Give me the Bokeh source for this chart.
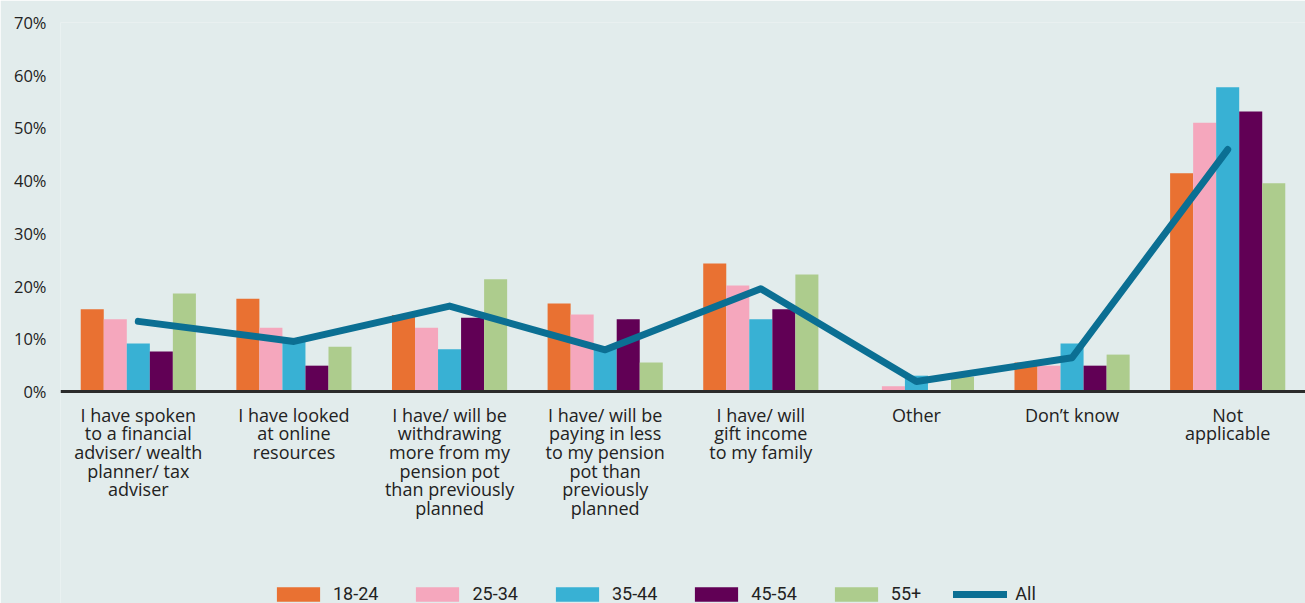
from bokeh.plotting import figure
from bokeh.models import FactorRange, Range1d, FixedTicker, Legend, LegendItem, ColumnDataSource
from bokeh.transform import dodge
from bokeh.embed import file_html
from bokeh.resources import INLINE

categories = [
    "I have spoken to a financial adviser/ wealth planner/ tax adviser",
    "I have looked at online resources",
    "I have/ will be withdrawing more from my pension pot than previously planned",
    "I have/ will be paying in less to my pension pot than previously planned",
    "I have/ will gift income to my family",
    "Other",
    "Don\u2019t know",
    "Not applicable",
]
tick_labels = [
    "I have spoken\nto a financial\nadviser/ wealth\nplanner/ tax\nadviser",
    "I have looked\nat online\nresources",
    "I have/ will be\nwithdrawing\nmore from my\npension pot\nthan previously\nplanned",
    "I have/ will be\npaying in less\nto my pension\npot than\npreviously\nplanned",
    "I have/ will\ngift income\nto my family",
    "Other",
    "Don\u2019t know",
    "Not\napplicable",
]
age_18_24 = [15.6, 17.6, 14.5, 16.7, 24.3, 0.0, 5.5, 41.4]
age_25_34 = [13.7, 12.1, 12.1, 14.6, 20.1, 1.0, 4.9, 51.0]
age_35_44 = [9.1, 10.1, 8.0, 8.3, 13.7, 3.0, 9.1, 57.7]
age_45_54 = [7.6, 4.9, 14.0, 13.7, 15.6, 0.0, 4.9, 53.1]
age_55_plus = [18.6, 8.5, 21.3, 5.5, 22.2, 2.8, 7.0, 39.5]
all_resp = [13.3, 9.5, 16.2, 7.9, 19.5, 1.9, 6.4, 45.9]
series_names = ["18-24", "25-34", "35-44", "45-54", "55+"]
y_ticks = [0, 10, 20, 30, 40, 50, 60, 70]
y_tick_labels = ["0%", "10%", "20%", "30%", "40%", "50%", "60%", "70%"]

colors = ["#E97132", "#F5A7BD", "#38B1D4", "#610055", "#ADCC8D"]
line_color = "#0B6F93"
bg = "#E2ECEC"
txt = "#222222"

src = ColumnDataSource(dict(cat=tick_labels, s0=age_18_24, s1=age_25_34, s2=age_35_44,
                            s3=age_45_54, s4=age_55_plus, all=all_resp))

# frame spans full height; x axis pinned at y = 0
px_per_unit = (391 - 22) / 70.0
y_bottom = -(603 - 391) / px_per_unit

p = figure(x_range=FactorRange(factors=tick_labels, range_padding=0),
           y_range=Range1d(y_bottom, 70),
           width=1305, height=603, output_backend="svg", toolbar_location=None,
           min_border_left=60, min_border_right=0, min_border_top=22, min_border_bottom=0,
           background_fill_color=bg, border_fill_color=bg, outline_line_color=None)

bw = 0.148
renderers = []
for i in range(5):
    r = p.vbar(x=dodge("cat", (i - 2) * bw, range=p.x_range), top="s%d" % i, width=bw,
               source=src, fill_color=colors[i], line_color=None)
    renderers.append(r)
lr = p.line(x="cat", y="all", source=src, line_width=7, line_color=line_color,
            line_cap="round", line_join="round")

p.xgrid.visible = False
p.ygrid.visible = False

p.xaxis.fixed_location = 0
p.xaxis.major_label_text_font = "Open Sans"
p.xaxis.major_label_text_font_size = "18px"
p.xaxis.major_label_text_color = txt
p.xaxis.major_label_text_line_height = 0.78
p.xaxis.major_label_standoff = 5
p.xaxis.major_tick_line_color = None
p.xaxis.minor_tick_line_color = None
p.xaxis.axis_line_width = 3
p.xaxis.axis_line_color = "#2B2B2B"

p.yaxis.ticker = FixedTicker(ticks=y_ticks)
p.yaxis.major_label_overrides = dict(zip(y_ticks, y_tick_labels))
p.yaxis.major_label_text_font = "Open Sans"
p.yaxis.major_label_text_font_size = "16.5px"
p.yaxis.major_label_text_color = txt
p.yaxis.axis_line_color = None
p.yaxis.major_tick_line_color = None
p.yaxis.minor_tick_line_color = None
p.yaxis.major_tick_out = 0
p.yaxis.major_label_standoff = 14

items = [LegendItem(label=series_names[i], renderers=[renderers[i]]) for i in range(5)]
items.append(LegendItem(label="All", renderers=[lr]))
legend = Legend(items=items, orientation="horizontal", location=(211, -1),
                glyph_width=54, glyph_height=18, label_standoff=8, spacing=32,
                padding=0, margin=0, background_fill_alpha=0, border_line_color=None,
                label_text_font="Roboto", label_text_font_size="18px",
                label_text_color=txt, label_height=18)
p.add_layout(legend)

open("out.html", "w").write(file_html(p, INLINE))
